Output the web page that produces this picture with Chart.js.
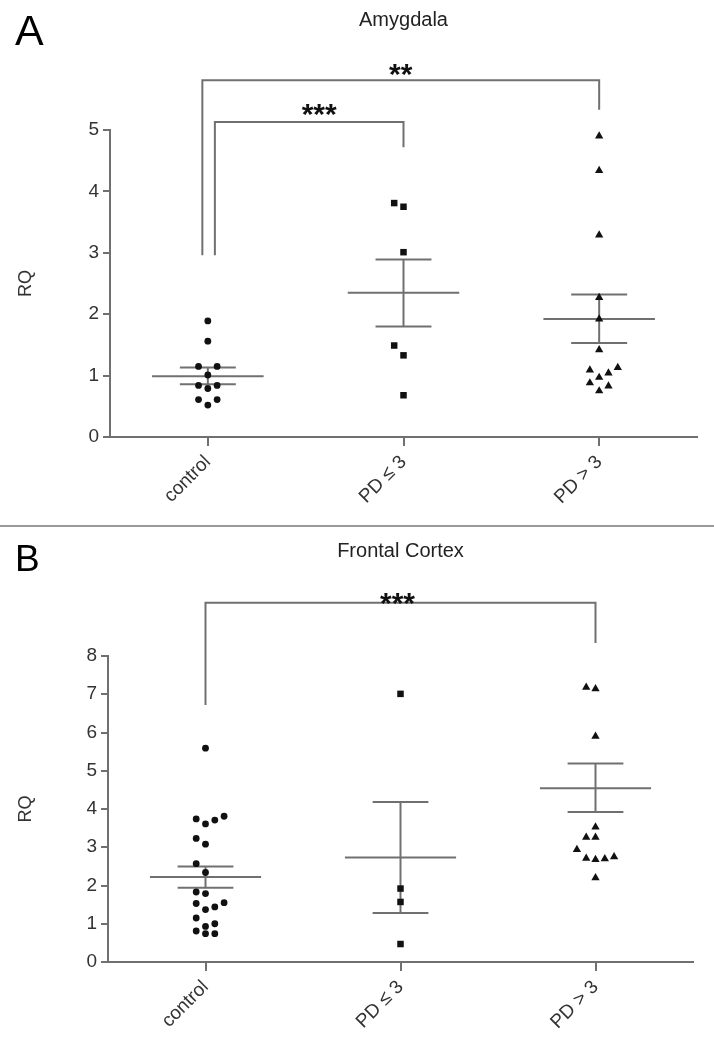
<!DOCTYPE html>
<html>
<head>
<meta charset="utf-8">
<script src="https://cdn.jsdelivr.net/npm/chart.js@4.4.1/dist/chart.umd.min.js"></script>
<style>
  body { margin: 0; background: #fff; }
  #page { position: relative; width: 714px; height: 1050px; overflow: hidden; font-family: "Liberation Sans", Arial, sans-serif; }
  canvas { position: absolute; left: 0; }
  .letter { position: absolute; left: 15px; line-height: 1; color: #000; z-index: 2; }
  .sep { position: absolute; left: 0; width: 714px; height: 2px; background: #9a9a9a; }
</style>
</head>
<body>
<div id="page">
  <canvas id="chartA" width="714" height="524" style="top:0"></canvas>
  <div class="letter" style="top:9px; font-size:43px">A</div>
  <div class="sep" style="top:525px"></div>
  <canvas id="chartB" width="714" height="522" style="top:528px"></canvas>
  <div class="letter" style="top:540px; font-size:37px">B</div>
</div>
<script>
// groups on the x axis
const categories = ['control', 'PD ≤ 3', 'PD > 3'];

// Amygdala, RQ per sample
const amyControl = [1.89, 1.56, 1.15, 1.15, 1.01, 0.84, 0.84, 0.79, 0.61, 0.61, 0.52];
const amyPdLow = [3.81, 3.75, 3.01, 1.49, 1.33, 0.68];
const amyPdHigh = [4.90, 4.34, 3.29, 2.27, 1.92, 1.42, 1.13, 1.09, 1.04, 0.97, 0.88, 0.83, 0.75];
// mean and mean +/- SEM as drawn
const amyMean = [0.99, 2.35, 1.92];
const amySemHi = [1.13, 2.89, 2.32];
const amySemLo = [0.86, 1.80, 1.53];
const amyTicks = [0, 1, 2, 3, 4, 5];

// Frontal cortex, RQ per sample
const fcControl = [5.59, 3.81, 3.74, 3.71, 3.61, 3.23, 3.08, 2.57, 2.34, 1.83, 1.79, 1.55, 1.53, 1.44, 1.37, 1.15, 1.00, 0.93, 0.81, 0.74, 0.74];
const fcPdLow = [7.01, 1.92, 1.57, 0.47];
const fcPdHigh = [7.18, 7.14, 5.90, 3.53, 3.26, 3.26, 2.94, 2.75, 2.71, 2.70, 2.68, 2.20];
const fcMean = [2.22, 2.73, 4.54];
const fcSemHi = [2.50, 4.18, 5.19];
const fcSemLo = [1.94, 1.28, 3.92];
const fcTicks = [0, 1, 2, 3, 4, 5, 6, 7, 8];

const AXIS_GREY = '#707070';
const TEXT_GREY = '#333';
const FONT = '"Liberation Sans", Arial, sans-serif';

// spread points of one column sideways (GraphPad style rows)
function swarm(values, col, pxPerUnit, slotUnits) {
  const sorted = values.slice().sort((a, b) => b - a);
  const out = [];
  let i = 0;
  while (i < sorted.length) {
    const row = [sorted[i]];
    let j = i + 1;
    while (j < sorted.length && (sorted[i] - sorted[j]) * pxPerUnit <= 10) {
      row.push(sorted[j]);
      j++;
    }
    const n = row.length;
    const start = n === 2 ? -1 : -Math.floor((n - 1) / 2);
    const slots = [];
    for (let k = 0; k < n; k++) slots.push(start + k);
    slots.sort((a, b) => Math.abs(b) - Math.abs(a) || a - b);
    row.forEach((v, k) => out.push({ x: col + slots[k] * slotUnits, y: v }));
    i = j;
  }
  return out;
}

// mean / SEM bars and significance brackets, drawn through the scales
function statsPlugin(cfg) {
  const seg = (chart, x1, y1, x2, y2) => {
    const x = chart.scales.x, y = chart.scales.y, ctx = chart.ctx;
    ctx.beginPath();
    ctx.moveTo(x.getPixelForValue(x1), y.getPixelForValue(y1));
    ctx.lineTo(x.getPixelForValue(x2), y.getPixelForValue(y2));
    ctx.stroke();
  };
  return {
    id: 'stats',
    beforeDatasetsDraw(chart) {
      const ctx = chart.ctx;
      ctx.save();
      ctx.strokeStyle = AXIS_GREY;
      ctx.lineWidth = 2;
      cfg.mean.forEach((m, i) => {
        seg(chart, i - 0.285, m, i + 0.285, m);
        seg(chart, i - 0.143, cfg.hi[i], i + 0.143, cfg.hi[i]);
        seg(chart, i - 0.143, cfg.lo[i], i + 0.143, cfg.lo[i]);
        seg(chart, i, cfg.lo[i], i, cfg.hi[i]);
      });
      ctx.restore();
    },
    afterDraw(chart) {
      const ctx = chart.ctx;
      const x = chart.scales.x, y = chart.scales.y;
      ctx.save();
      ctx.strokeStyle = AXIS_GREY;
      ctx.lineWidth = 2;
      cfg.brackets.forEach(b => {
        const xl = x.getPixelForValue(b.from), xr = x.getPixelForValue(b.to);
        const yt = y.getPixelForValue(b.top);
        ctx.beginPath();
        ctx.moveTo(xl, y.getPixelForValue(b.leftEnd));
        ctx.lineTo(xl, yt);
        ctx.lineTo(xr, yt);
        ctx.lineTo(xr, y.getPixelForValue(b.rightEnd));
        ctx.stroke();
        ctx.fillStyle = '#111';
        ctx.font = 'bold 30px ' + FONT;
        ctx.textAlign = 'center';
        ctx.textBaseline = 'alphabetic';
        ctx.fillText(b.label, (xl + xr) / 2 + b.shift, yt + b.dy);
      });
      ctx.restore();
    }
  };
}

function makeChart(id, cfg) {
  const canvas = document.getElementById(id);
  const plotW = canvas.width - cfg.left - cfg.right;
  const plotH = canvas.height - cfg.top - cfg.bottom;
  const yMax = cfg.ticks[cfg.ticks.length - 1];
  const pxPerUnit = plotH / yMax;
  const slotUnits = 9.3 / (plotW / categories.length);
  const styles = ['circle', 'rect', 'triangle'];
  const radii = [3.4, 4.6, 4.8];

  const datasets = cfg.groups.map((vals, i) => ({
    label: categories[i],
    data: swarm(vals, i, pxPerUnit, slotUnits),
    pointStyle: styles[i],
    pointRadius: radii[i],
    pointBackgroundColor: '#111',
    pointBorderWidth: 0,
    showLine: false,
    clip: false
  }));

  return new Chart(canvas.getContext('2d'), {
    type: 'scatter',
    data: { datasets },
    plugins: [statsPlugin(cfg)],
    options: {
      responsive: false,
      animation: false,
      devicePixelRatio: 1,
      events: [],
      layout: { padding: { top: 0, left: 0, right: cfg.right, bottom: 0 } },
      plugins: {
        legend: { display: false },
        tooltip: { enabled: false },
        title: {
          display: true,
          text: cfg.title,
          fullSize: false,
          color: '#222',
          font: { family: FONT, size: 20, weight: 'normal', lineHeight: 1.2 },
          padding: { top: cfg.titleTop, bottom: cfg.top - cfg.titleTop - 24 }
        }
      },
      scales: {
        x: {
          type: 'linear',
          min: -0.5,
          max: categories.length - 0.5,
          afterBuildTicks: s => { s.ticks = categories.map((c, i) => ({ value: i })); },
          afterFit: s => { s.height = cfg.bottom; },
          border: { display: true, color: AXIS_GREY, width: 2 },
          grid: { drawOnChartArea: false, color: AXIS_GREY, lineWidth: 2, tickLength: 9 },
          ticks: {
            autoSkip: false,
            minRotation: 45,
            maxRotation: 45,
            padding: 5,
            color: TEXT_GREY,
            font: { family: FONT, size: 19 },
            callback: v => categories[v]
          }
        },
        y: {
          min: 0,
          max: yMax,
          afterBuildTicks: s => { s.ticks = cfg.ticks.map(v => ({ value: v })); },
          afterFit: s => { s.width = cfg.left; },
          border: { display: true, color: AXIS_GREY, width: 2 },
          grid: { drawOnChartArea: false, color: AXIS_GREY, lineWidth: 2, tickLength: 7 },
          ticks: { padding: 4, color: TEXT_GREY, font: { family: FONT, size: 19 } },
          title: {
            display: true,
            text: 'RQ',
            color: TEXT_GREY,
            font: { family: FONT, size: 18, lineHeight: 1.2 },
            padding: { top: 15, bottom: 0 }
          }
        }
      }
    }
  });
}

makeChart('chartA', {
  title: 'Amygdala',
  groups: [amyControl, amyPdLow, amyPdHigh],
  mean: amyMean, hi: amySemHi, lo: amySemLo,
  ticks: amyTicks,
  left: 110, right: 17, top: 130, bottom: 87, titleTop: 8,
  brackets: [
    { from: -0.028, to: 2, top: 5.81, leftEnd: 2.96, rightEnd: 5.33, label: '**', shift: 0, dy: 4 },
    { from: 0.036, to: 1, top: 5.13, leftEnd: 2.96, rightEnd: 4.72, label: '***', shift: 10, dy: 2 }
  ]
});

makeChart('chartB', {
  title: 'Frontal Cortex',
  groups: [fcControl, fcPdLow, fcPdHigh],
  mean: fcMean, hi: fcSemHi, lo: fcSemLo,
  ticks: fcTicks,
  left: 108, right: 21, top: 128, bottom: 88, titleTop: 11,
  brackets: [
    { from: 0, to: 2, top: 9.39, leftEnd: 6.72, rightEnd: 8.34, label: '***', shift: -3, dy: 10 }
  ]
});
</script>
</body>
</html>
